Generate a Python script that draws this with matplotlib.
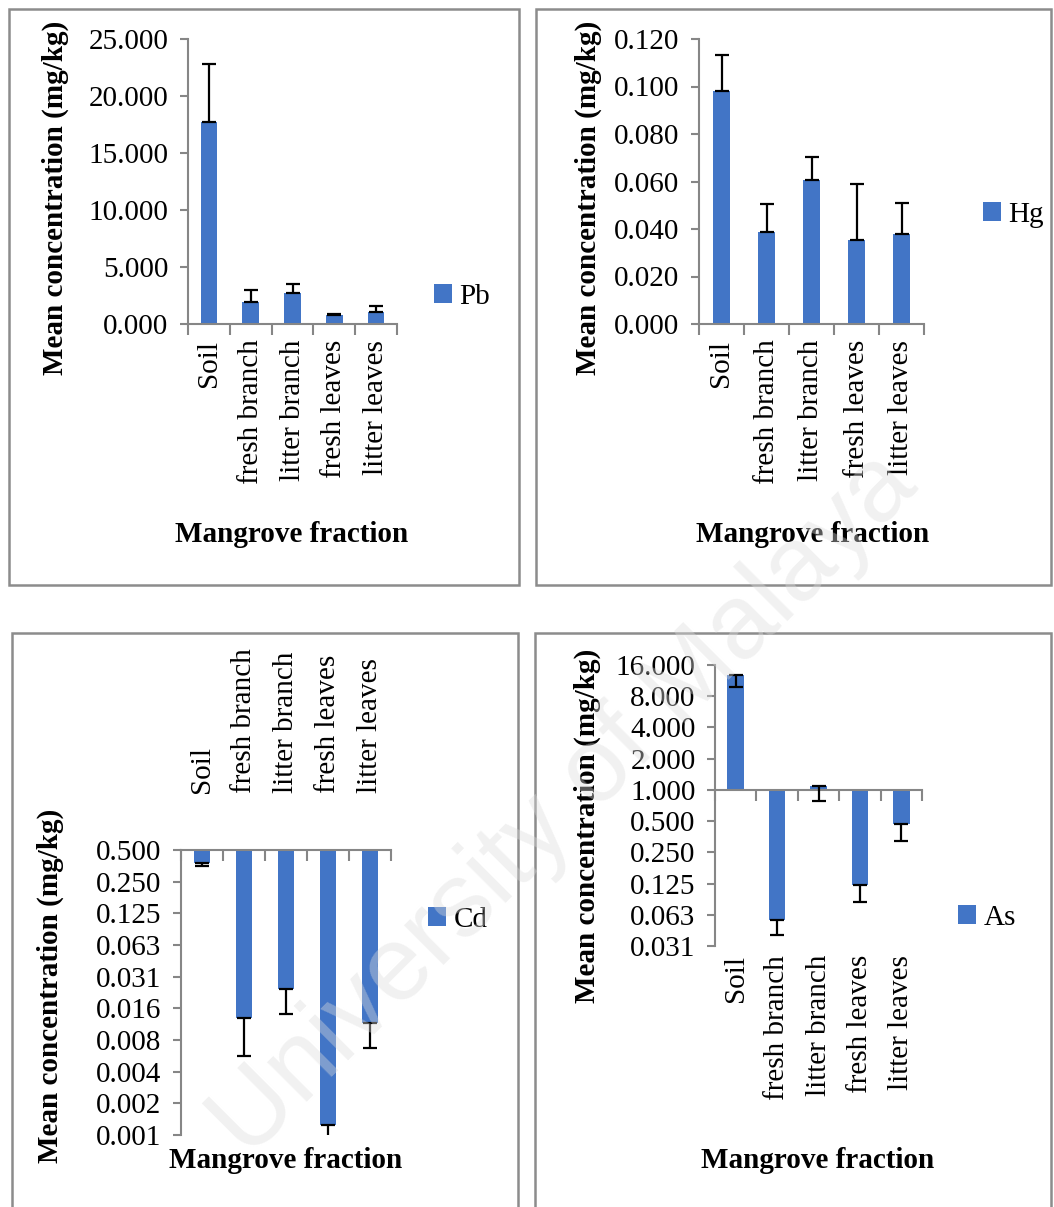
import numpy as np
import matplotlib.pyplot as plt
from matplotlib.patches import Rectangle

plt.rcParams['font.family'] = ['Liberation Serif', 'DejaVu Serif']

# data: mean concentration (mg/kg) and standard deviation per mangrove fraction
fractions = ['Soil', 'fresh branch', 'litter branch', 'fresh leaves', 'litter leaves']

pb_mean = [17.70, 1.95, 2.70, 0.79, 1.07]
pb_sd = [5.10, 1.05, 0.80, 0.10, 0.50]

hg_mean = [0.0981, 0.0387, 0.0606, 0.0354, 0.0379]
hg_sd = [0.0152, 0.0118, 0.0097, 0.0235, 0.0130]

cd_mean = [0.376, 0.0127, 0.0239, 0.00122, 0.0114]
cd_sd = [0.024, 0.0072, 0.0100, 0.00032, 0.0048]

as_mean = [12.8, 0.056, 1.09, 0.122, 0.47]
as_sd = [3.0, 0.016, 0.31, 0.039, 0.147]

cd_ticklabels = ['0.500', '0.250', '0.125', '0.063', '0.031',
                 '0.016', '0.008', '0.004', '0.002', '0.001']
as_ticklabels = ['16.000', '8.000', '4.000', '2.000', '1.000',
                 '0.500', '0.250', '0.125', '0.063', '0.031']

BAR = '#4275C6'
AXIS = '#868686'
FS = 21

W, H = 1054, 1207
fig = plt.figure(figsize=(W / 100, H / 100), dpi=100)


def place(x0, y0, x1, y1):
    return fig.add_axes([x0 / W, 1 - y1 / H, (x1 - x0) / W, (y1 - y0) / H])


def fpos(x, y):
    return x / W, 1 - y / H


def frame(x0, y0, x1, y1):
    fig.patches.append(Rectangle(fpos(x0, y1), (x1 - x0) / W, (y1 - y0) / H,
                                 transform=fig.transFigure, fill=False,
                                 edgecolor='#8c8c8c', linewidth=1.8))


def base_style(ax):
    for s in ax.spines.values():
        s.set_visible(False)
    ax.spines['left'].set_visible(True)
    ax.spines['left'].set_color(AXIS)
    ax.spines['left'].set_linewidth(1.5)
    ax.tick_params(axis='y', length=6, width=1.5, color=AXIS,
                   labelsize=FS, pad=8)
    ax.set_xlim(-0.5, 4.5)
    ax.patch.set_alpha(0)


def category_ticks(ax, ypos, direction):
    ax.set_xticks(np.arange(-0.5, 5), labels=[])
    ax.tick_params(axis='x', which='major', length=8, width=1.5,
                   color=AXIS, direction=direction)
    ax.set_xticks(x, minor=True, labels=[])
    ax.tick_params(axis='x', which='minor', length=0)
    va = 'top' if ypos < 0.5 else 'bottom'
    for i, name in enumerate(fractions):
        ax.text(i, ypos, name, rotation=90, ha='center', va=va,
                fontsize=FS, transform=ax.get_xaxis_transform())


def add_legend(ax, bars, name, px, py):
    ax.legend([bars], [name], loc='center left',
              bbox_to_anchor=fpos(px, py), bbox_transform=fig.transFigure,
              frameon=False, fontsize=FS, handlelength=0.62,
              handleheight=0.62, handletextpad=0.25, borderpad=0,
              borderaxespad=0)


def labels(ylx, yly, xlx, xly):
    fig.text(*fpos(ylx, yly), 'Mean concentration (mg/kg)', rotation=90,
             ha='center', va='center', fontsize=FS, fontweight='bold')
    fig.text(*fpos(xlx, xly), 'Mangrove fraction', ha='center',
             va='center', fontsize=FS, fontweight='bold')


x = np.arange(len(fractions))
zeros = np.zeros(len(fractions))
err_kw = dict(fmt='none', ecolor='black', elinewidth=1.6, capsize=5,
              capthick=1.6, zorder=3)

# panel frames
frame(9, 9, 519, 585)
frame(536, 9, 1051, 585)
frame(12, 633, 518, 1230)
frame(535, 633, 1051, 1230)

# Pb
ax = place(188, 39, 397, 324)
base_style(ax)
ax.spines['bottom'].set_visible(True)
ax.spines['bottom'].set_color(AXIS)
ax.spines['bottom'].set_linewidth(1.5)
bars = ax.bar(x, pb_mean, width=0.4, color=BAR, zorder=2)
ax.errorbar(x, pb_mean, yerr=[zeros, pb_sd], **err_kw)
ax.set_ylim(0, 25)
ax.set_yticks(np.arange(0, 26, 5), labels=[f'{v:.3f}' for v in np.arange(0, 26, 5)])
category_ticks(ax, -0.055, 'out')
add_legend(ax, bars, 'Pb', 434, 297)
labels(55, 198, 292, 535)

# Hg
ax = place(699, 39, 924, 324)
base_style(ax)
ax.spines['bottom'].set_visible(True)
ax.spines['bottom'].set_color(AXIS)
ax.spines['bottom'].set_linewidth(1.5)
bars = ax.bar(x, hg_mean, width=0.38, color=BAR, zorder=2)
ax.errorbar(x, hg_mean, yerr=[zeros, hg_sd], **err_kw)
ax.set_ylim(0, 0.12)
ticks = np.linspace(0, 0.12, 7)
ax.set_yticks(ticks, labels=[f'{v:.3f}' for v in ticks])
category_ticks(ax, -0.055, 'out')
add_legend(ax, bars, 'Hg', 983, 215)
labels(588, 198, 813, 535)

# Cd (log2 axis crossing at 0.5, bars hang down)
ax = place(181, 850, 391, 1135)
base_style(ax)
ax.set_yscale('log', base=2)
ax.spines['top'].set_visible(True)
ax.spines['top'].set_color(AXIS)
ax.spines['top'].set_linewidth(1.5)
ax.xaxis.tick_top()
cd_base = 0.5
bars = ax.bar(x, np.array(cd_mean) - cd_base, bottom=cd_base, width=0.38,
              color=BAR, zorder=2)
ax.errorbar(x, cd_mean, yerr=[cd_sd, zeros], **err_kw)
ax.set_ylim(0.5 / 2 ** 9, 0.5)
ax.set_yticks([0.5 / 2 ** k for k in range(10)], labels=cd_ticklabels)
ax.yaxis.set_minor_locator(plt.NullLocator())
category_ticks(ax, 1.2, 'in')
add_legend(ax, bars, 'Cd', 428, 920)
labels(50, 986, 286, 1160)

# As (log2 axis crossing at 1)
ax = place(715, 665, 922, 946)
base_style(ax)
ax.set_yscale('log', base=2)
ax.spines['bottom'].set_visible(True)
ax.spines['bottom'].set_color(AXIS)
ax.spines['bottom'].set_linewidth(1.5)
ax.spines['bottom'].set_position(('data', 1))
as_base = 1.0
bars = ax.bar(x, np.array(as_mean) - as_base, bottom=as_base, width=0.4,
              color=BAR, zorder=2)
ax.errorbar(x, as_mean, yerr=[as_sd, zeros], **err_kw)
ax.set_ylim(2 ** -5, 16)
ax.set_yticks([16 / 2 ** k for k in range(10)], labels=as_ticklabels)
ax.yaxis.set_minor_locator(plt.NullLocator())
category_ticks(ax, -0.032, 'out')
add_legend(ax, bars, 'As', 958, 918)
labels(587, 826, 818, 1160)

# faint diagonal watermark across the figure
fig.text(*fpos(565, 805), 'University of Malaya', rotation=45, fontsize=76,
         family='Liberation Sans', color='#dcdcdc', alpha=0.4,
         ha='center', va='center', zorder=10)

fig.savefig('out.png', dpi=100, facecolor='white')
